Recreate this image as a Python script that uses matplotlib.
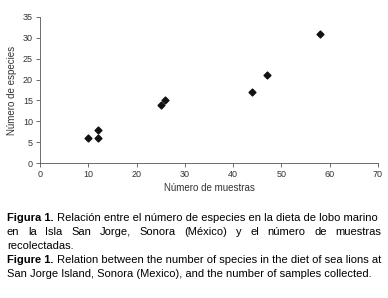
import matplotlib
matplotlib.use('Agg')
import matplotlib.pyplot as plt

muestras = [10, 12, 12, 25, 26, 44, 47, 58]
especies = [6, 6, 8, 14, 15, 17, 21, 31]
xticks = [0, 10, 20, 30, 40, 50, 60, 70]
yticks = [0, 5, 10, 15, 20, 25, 30, 35]

caption = [
    ('Figura 1.', ' Relación entre el número de especies en la dieta de lobo marino', False),
    ('', 'en la Isla San Jorge, Sonora (México) y el número de muestras', True),
    ('', 'recolectadas.', False),
    ('Figure 1.', ' Relation between the number of species in the diet of sea lions at', False),
    ('', 'San Jorge Island, Sonora (Mexico), and the number of samples collected.', False),
]

plt.rcParams['font.family'] = ['Liberation Sans', 'DejaVu Sans']
fig = plt.figure(figsize=(3.88, 2.98), dpi=100)
ax = fig.add_axes([0.103, 0.453, 0.871, 0.49])
ax.scatter(muestras, especies, marker='D', s=12, color='#111111', zorder=3)
ax.set_xlim(0, 70)
ax.set_ylim(0, 35)
ax.set_xticks(xticks)
ax.set_yticks(yticks)
ax.tick_params(labelsize=6.5, length=3, width=0.6, color='#555555', labelcolor='#333333', pad=2)
for s in ['top', 'right']:
    ax.spines[s].set_visible(False)
for s in ['left', 'bottom']:
    ax.spines[s].set_linewidth(0.6)
    ax.spines[s].set_color('#555555')
ax.set_xlabel('Número de muestras', fontsize=7, color='#333333', labelpad=3)
ax.set_ylabel('Número de especies', fontsize=7, color='#333333', labelpad=4)

fig.canvas.draw()
r = fig.canvas.get_renderer()
x0, x1 = 7, 381
ys = [218, 232, 246, 260, 274]
fs = 8
for (bold, rest, just), yp in zip(caption, ys):
    y = 1 - yp / 298
    x = x0
    if bold:
        t = fig.text(x / 388, y, bold, fontsize=fs, fontweight='bold', va='center')
        x += t.get_window_extent(r).width
    if just:
        words = rest.split(' ')
        ts = [fig.text(0, y, w, fontsize=fs, va='center') for w in words]
        widths = [t.get_window_extent(r).width for t in ts]
        gap = (x1 - x - sum(widths)) / (len(words) - 1)
        for t, w in zip(ts, widths):
            t.set_x(x / 388)
            x += w + gap
    else:
        fig.text(x / 388, y, rest, fontsize=fs, va='center')

fig.savefig('out.png', dpi=100)
